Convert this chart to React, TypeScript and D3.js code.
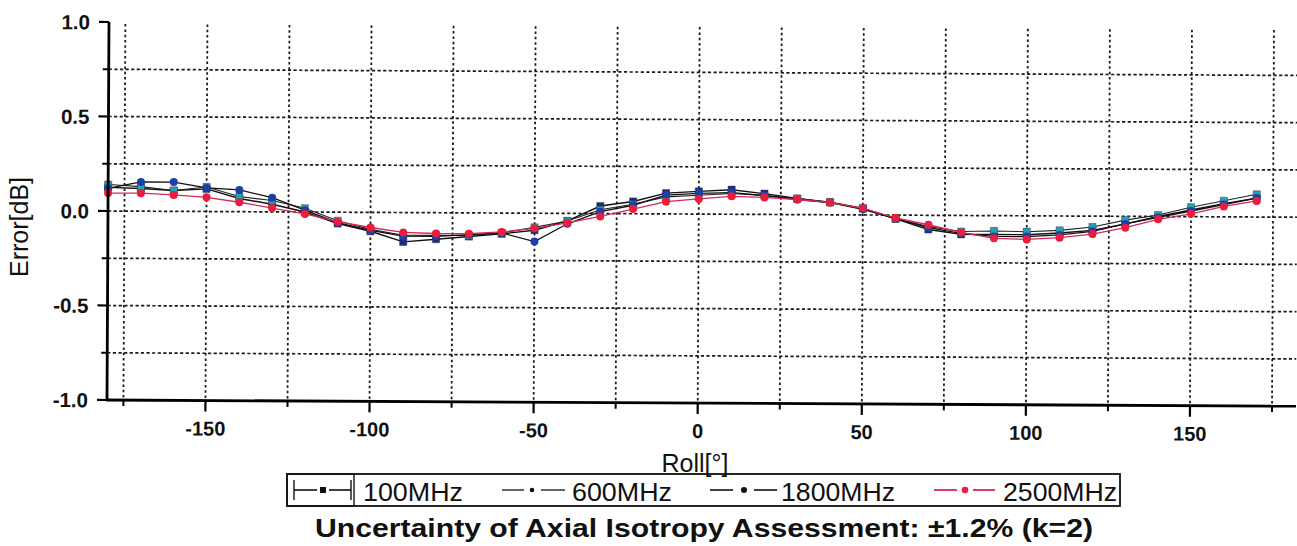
import React from 'react';
import * as d3 from 'd3';

const angles = [-180, -170, -160, -150, -140, -130, -120, -110, -100, -90, -80, -70, -60, -50, -40, -30, -20, -10,
  0, 10, 20, 30, 40, 50, 60, 70, 80, 90, 100, 110, 120, 130, 140, 150, 160, 170];

const s100MHz = [0.125, 0.12, 0.11, 0.12, 0.07, 0.04, 0.0, -0.06, -0.1, -0.155, -0.14, -0.125, -0.11, -0.09, -0.04, 0.04, 0.065, 0.11,
  0.12, 0.13, 0.11, 0.085, 0.065, 0.035, -0.02, -0.075, -0.1, -0.1, -0.1, -0.09, -0.075, -0.04, 0.0, 0.035, 0.07, 0.1];
const s600MHz = [0.14, 0.13, 0.11, 0.13, 0.08, 0.06, 0.02, -0.045, -0.09, -0.12, -0.12, -0.12, -0.105, -0.075, -0.04, 0.02, 0.05, 0.09,
  0.1, 0.11, 0.1, 0.085, 0.068, 0.035, -0.018, -0.06, -0.085, -0.081, -0.084, -0.076, -0.057, -0.02, 0.008, 0.05, 0.085, 0.12];
const s1800MHz = [0.12, 0.155, 0.155, 0.125, 0.115, 0.075, 0.01, -0.055, -0.095, -0.125, -0.125, -0.115, -0.105, -0.15, -0.055, 0.01, 0.045, 0.1,
  0.11, 0.115, 0.1, 0.08, 0.065, 0.03, -0.018, -0.065, -0.095, -0.11, -0.11, -0.1, -0.08, -0.04, -0.005, 0.03, 0.065, 0.1];
const s2500MHz = [0.095, 0.095, 0.087, 0.075, 0.05, 0.02, -0.01, -0.05, -0.08, -0.105, -0.11, -0.11, -0.1, -0.08, -0.05, -0.015, 0.025, 0.065,
  0.08, 0.095, 0.09, 0.08, 0.065, 0.035, -0.015, -0.05, -0.09, -0.12, -0.125, -0.115, -0.095, -0.06, -0.015, 0.015, 0.055, 0.085];

const seriesNames = ['100MHz', '600MHz', '1800MHz', '2500MHz'];
const xMajorTicks = [-150, -100, -50, 0, 50, 100, 150];
const xMinorTicks = [-175, -125, -75, -25, 25, 75, 125, 175];
const xGrid = [-175, -150, -125, -100, -75, -50, -25, 0, 25, 50, 75, 100, 125, 150, 175];
const yMajorTicks = [1.0, 0.5, 0.0, -0.5, -1.0];
const yTickLabels = ['1.0', '0.5', '0.0', '-0.5', '-1.0'];
const yMinorTicks = [0.75, 0.25, -0.25, -0.75];
const yGrid = [0.75, 0.5, 0.25, 0.0, -0.25, -0.5, -0.75];

const seriesValues = [s100MHz, s600MHz, s1800MHz, s2500MHz];
const styles = [
  { line: '#111', lw: 1.4, fill: '#1c2a80', shape: 'square' },
  { line: '#222', lw: 1.1, fill: '#25a0b0', shape: 'square' },
  { line: '#111', lw: 1.3, fill: '#1d3fa8', shape: 'circle' },
  { line: '#d42a55', lw: 1.3, fill: '#ec1c3c', shape: 'circle' },
];

const W = 1297, H = 546;
const x = d3.scaleLinear().domain([-180, 182]).range([108, 1296]);
const y = d3.scaleLinear().domain([-1, 1]).range([400, 22]);
const FONT = 'Liberation Sans, Arial, sans-serif';

export default function App() {
  const line = d3.line<number>().x((_, i) => x(angles[i])).y((d) => y(d));
  const x0 = x.range()[0];
  const yTop = y(1), yBot = y(-1);
  return (
    <div style={{ position: 'absolute', left: 0, top: 0 }}>
      <svg width={W} height={H} style={{ display: 'block', background: '#fff' }}>
        <g transform={`rotate(0.3, ${x0}, ${y(0)})`}>
          {xGrid.map((v) => (
            <line key={'gx' + v} x1={x(v)} x2={x(v)} y1={yTop + 2} y2={yBot} stroke="#1a1a1a" strokeWidth={1.8} strokeDasharray="2.5,2.8" />
          ))}
          {yGrid.map((v) => (
            <line key={'gy' + v} x1={x0} x2={W} y1={y(v)} y2={y(v)} stroke="#1a1a1a" strokeWidth={1.7} strokeDasharray="3.2,2.4" />
          ))}
          {seriesValues.map((vals, si) => (
            <g key={'s' + si}>
              <path d={line(vals) || ''} fill="none" stroke={styles[si].line} strokeWidth={styles[si].lw} />
              {vals.map((v, i) =>
                styles[si].shape === 'square' ? (
                  <rect key={i} x={x(angles[i]) - 3.6} y={y(v) - 3.6} width={7.2} height={7.2} fill={styles[si].fill} stroke="#333" strokeWidth={0.4} />
                ) : (
                  <circle key={i} cx={x(angles[i])} cy={y(v)} r={4} fill={styles[si].fill} />
                )
              )}
            </g>
          ))}
          <line x1={x0} x2={x0} y1={yTop} y2={yBot + 1} stroke="#000" strokeWidth={2.8} />
          <line x1={x0 - 1} x2={W} y1={yBot} y2={yBot} stroke="#000" strokeWidth={2.8} />
          {yMajorTicks.map((v, i) => (
            <g key={'ym' + v}>
              <line x1={x0 - 10} x2={x0} y1={y(v)} y2={y(v)} stroke="#000" strokeWidth={2.2} />
              <text x={x0 - 19} y={y(v)} dy="0.36em" textAnchor="end" fontFamily={FONT} fontWeight="bold" fontSize={20.5} fill="#111">{yTickLabels[i]}</text>
            </g>
          ))}
          {yMinorTicks.map((v) => (
            <line key={'yn' + v} x1={x0 - 6} x2={x0} y1={y(v)} y2={y(v)} stroke="#000" strokeWidth={2} />
          ))}
          {xMajorTicks.map((v) => (
            <g key={'xm' + v}>
              <line x1={x(v)} x2={x(v)} y1={yBot} y2={yBot + 11} stroke="#000" strokeWidth={2.2} />
              <text x={x(v)} y={yBot + 35} textAnchor="middle" fontFamily={FONT} fontWeight="bold" fontSize={20} fill="#111">{String(v)}</text>
            </g>
          ))}
          {xMinorTicks.map((v) => (
            <line key={'xn' + v} x1={x(v)} x2={x(v)} y1={yBot} y2={yBot + 6} stroke="#000" strokeWidth={2} />
          ))}
        </g>
        <text x={695} y={472} textAnchor="middle" fontFamily={FONT} fontSize={25} fill="#111">Roll[°]</text>
        <text transform={`translate(28, 227) rotate(-90)`} textAnchor="middle" fontFamily={FONT} fontSize={25} fill="#111">Error[dB]</text>
        <rect x={287} y={474} width={833} height={32} fill="none" stroke="#111" strokeWidth={1.8} />
        <rect x={287} y={474} width={67} height={32} fill="none" stroke="#111" strokeWidth={1.4} />
        <line x1={294} x2={317} y1={490} y2={490} stroke="#111" strokeWidth={1.6} />
        <line x1={329} x2={351} y1={490} y2={490} stroke="#111" strokeWidth={1.6} />
        <line x1={294} x2={294} y1={480} y2={500} stroke="#111" strokeWidth={1.4} />
        <line x1={351} x2={351} y1={480} y2={500} stroke="#111" strokeWidth={1.4} />
        <rect x={320} y={487} width={6} height={6} fill="#111" />
        <text x={363} y={501} fontFamily={FONT} fontSize={26} fill="#111" textLength={100} lengthAdjust="spacingAndGlyphs">{seriesNames[0]}</text>
        <line x1={502} x2={524} y1={490} y2={490} stroke="#111" strokeWidth={1.3} />
        <line x1={541} x2={565} y1={490} y2={490} stroke="#111" strokeWidth={1.3} />
        <circle cx={532} cy={490} r={2.3} fill="#111" />
        <text x={572} y={501} fontFamily={FONT} fontSize={26} fill="#111" textLength={100} lengthAdjust="spacingAndGlyphs">{seriesNames[1]}</text>
        <line x1={710} x2={733} y1={490} y2={490} stroke="#111" strokeWidth={1.6} />
        <line x1={754} x2={777} y1={490} y2={490} stroke="#111" strokeWidth={1.6} />
        <circle cx={744} cy={490} r={3} fill="#111" />
        <text x={781} y={501} fontFamily={FONT} fontSize={26} fill="#111" textLength={114} lengthAdjust="spacingAndGlyphs">{seriesNames[2]}</text>
        <line x1={934} x2={957} y1={490} y2={490} stroke="#d42a55" strokeWidth={1.8} />
        <line x1={973} x2={995} y1={490} y2={490} stroke="#d42a55" strokeWidth={1.8} />
        <circle cx={965} cy={490} r={3.3} fill="#ec1c3c" />
        <text x={1003} y={501} fontFamily={FONT} fontSize={26} fill="#111" textLength={114} lengthAdjust="spacingAndGlyphs">{seriesNames[3]}</text>
        <text x={315} y={537} fontFamily={FONT} fontWeight="bold" fontSize={25} fill="#111" textLength={778} lengthAdjust="spacingAndGlyphs">
          Uncertainty of Axial Isotropy Assessment: ±1.2% (k=2)
        </text>
      </svg>
    </div>
  );
}
